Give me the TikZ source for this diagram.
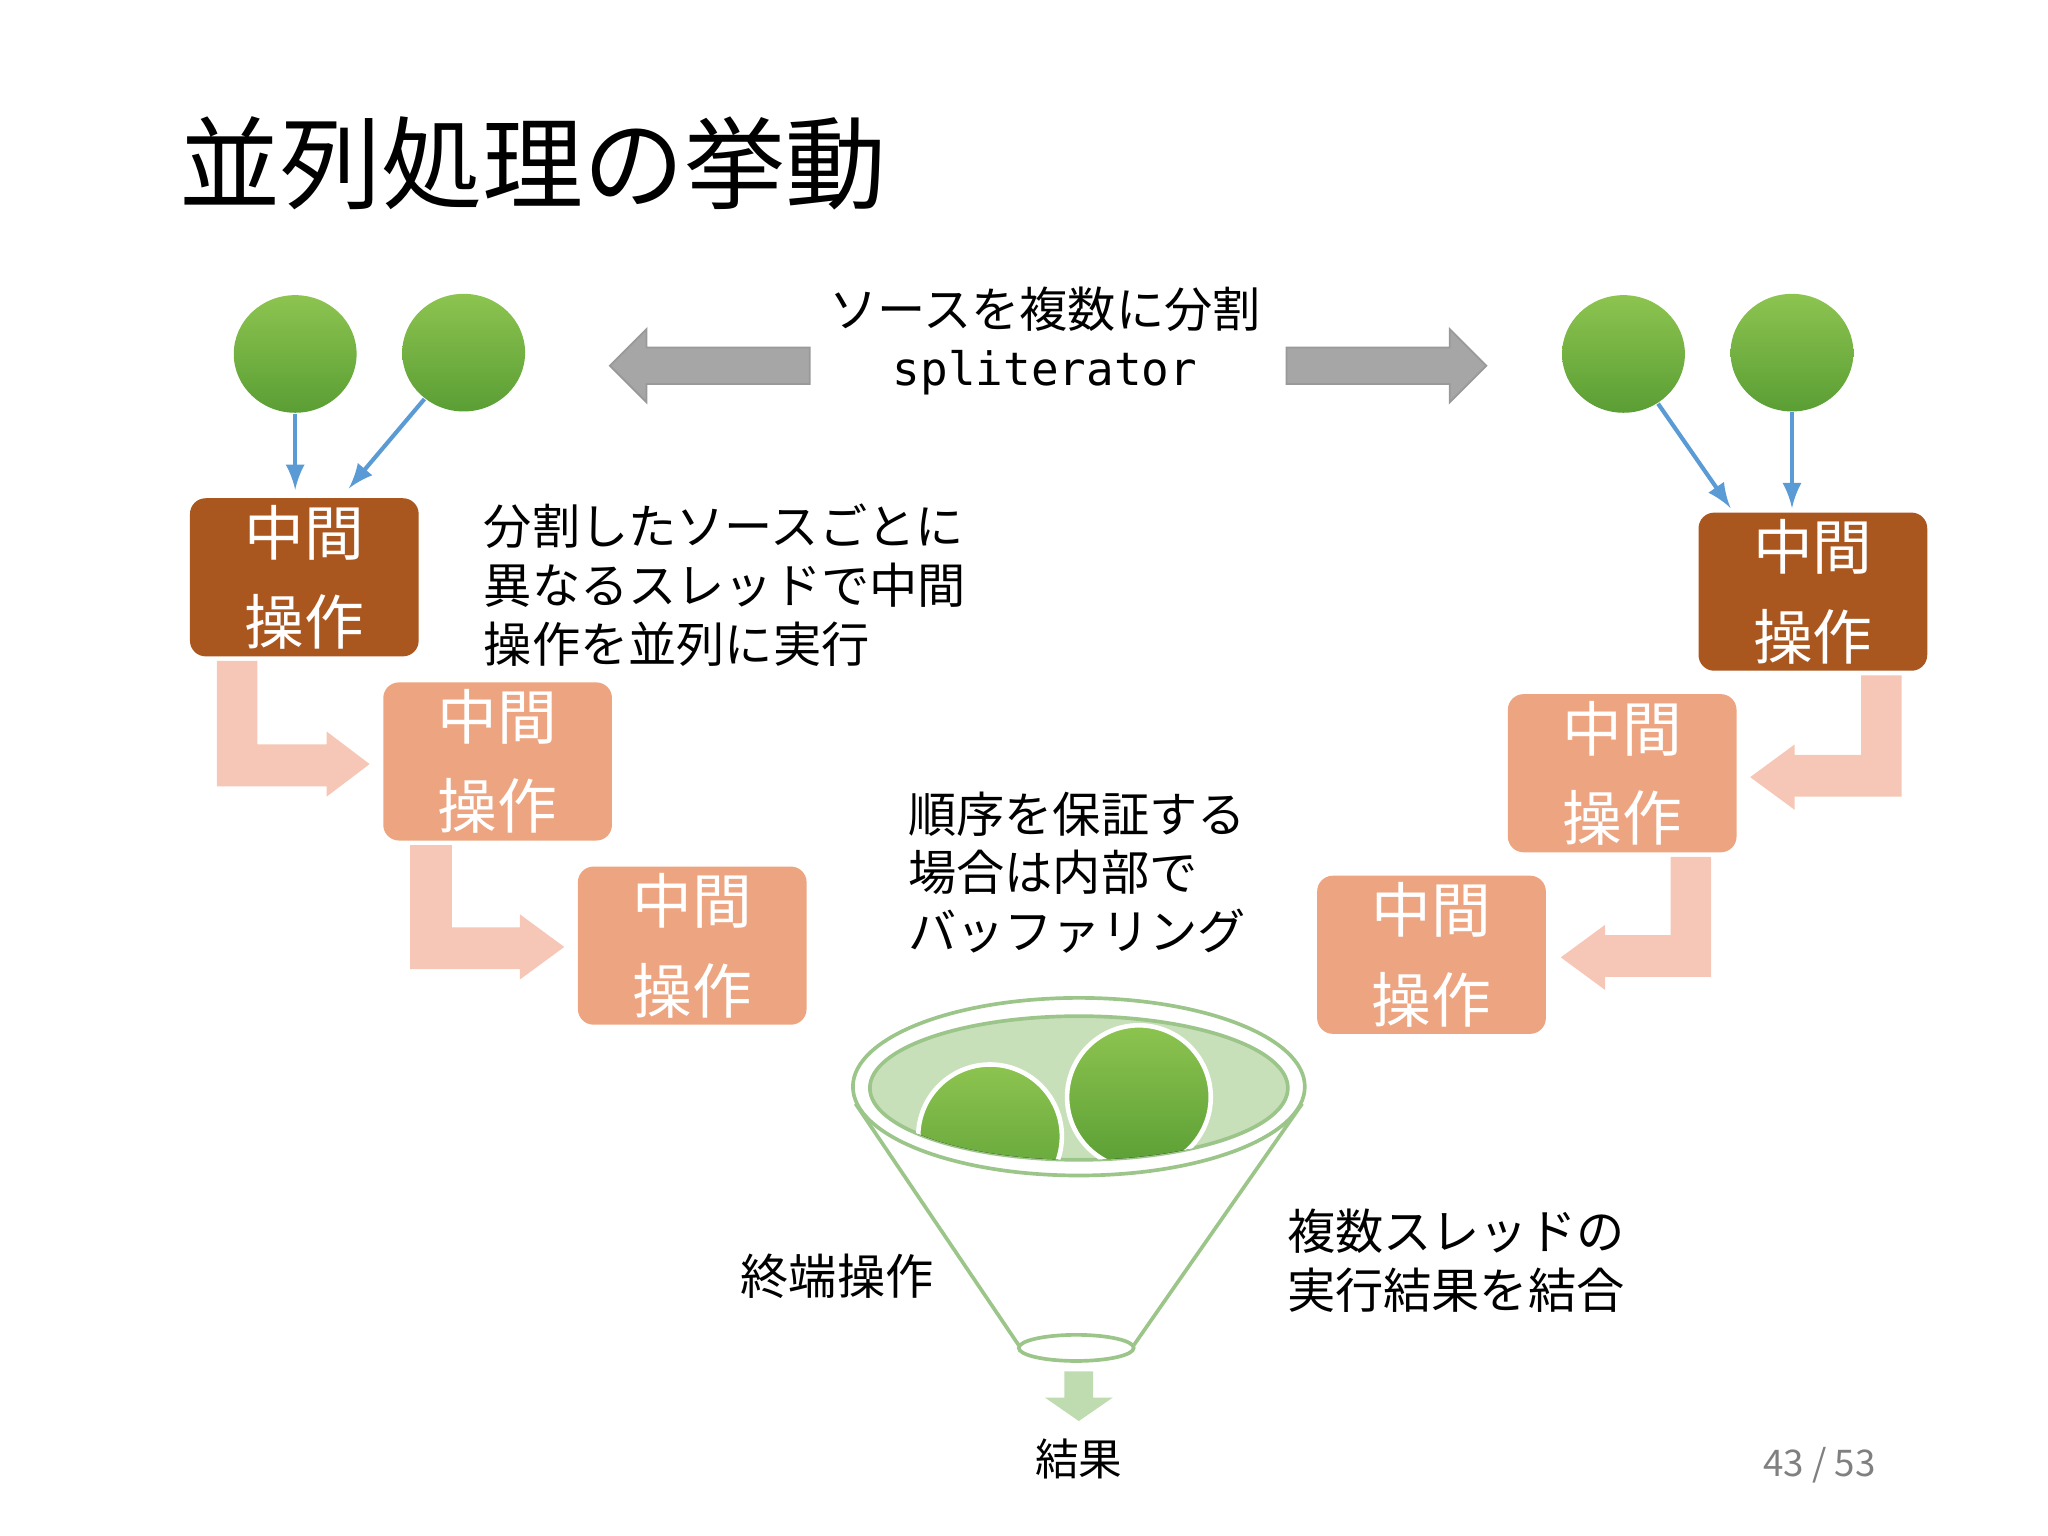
\documentclass[tikz,border=0pt]{standalone}
\usepackage{fontspec}
\setmainfont{Noto Sans CJK JP}
\newfontfamily\monof{DejaVu Sans Mono}
\usetikzlibrary{shapes.geometric}
\definecolor{dbrown}{HTML}{A9561F}
\definecolor{salmon}{HTML}{EDA480}
\definecolor{pinka}{HTML}{F6C6B6}
\definecolor{grayar}{HTML}{A6A6A6}
\definecolor{gtop}{HTML}{8DC450}
\definecolor{gbot}{HTML}{5A9E34}
\definecolor{bluea}{HTML}{5B9BD5}
\definecolor{funf}{HTML}{C8E0BA}
\definecolor{fune}{HTML}{9CC58A}
\definecolor{ball}{HTML}{6DAE45}
\begin{document}
\begin{tikzpicture}[x=0.01cm,y=-0.01cm,
 ball/.style={ellipse,minimum width=0.94cm,minimum height=0.9cm,top color=gtop,bottom color=gbot,draw=none},
 box/.style={rounded corners=0.12cm,minimum width=1.75cm,minimum height=1.21cm,inner sep=0pt,text=white,align=center,font=\fontsize{13}{19.5}\selectfont},
 dbox/.style={box,fill=dbrown},
 lbox/.style={box,fill=salmon},
 txt/.style={font=\fontsize{10.5}{12.8}\selectfont,align=left,anchor=west},
 blue/.style={draw=bluea,line width=0.9pt,-latex}]
\useasboundingbox (0,0) rectangle (1568,1176);
\node[anchor=west,font=\fontsize{22}{26}\selectfont] (title) at (125,125) {並列処理の挙動};
% balls
\node[ball] (b1) at (226,271) {}; \node[ball] (b2) at (355,270) {};
\node[ball] (b3) at (1243,271) {}; \node[ball] (b4) at (1372,270) {};
% gray arrows
\fill[grayar,draw=gray!80] (620,266)--(495,266)--(495,252)--(467,280)--(495,308)--(495,294)--(620,294)--cycle;
\fill[grayar,draw=gray!80] (985,266)--(1110,266)--(1110,252)--(1138,280)--(1110,308)--(1110,294)--(985,294)--cycle;
\node[font=\fontsize{10.5}{13}\selectfont] (t1) at (800,237) {ソースを複数に分割};
\node[font=\monof\fontsize{10}{13}\selectfont] (t2) at (800,285) {spliterator};
% boxes
\node[dbox] (L1) at (233,442) {中間\\操作};
\node[lbox] (L2) at (381,583) {中間\\操作};
\node[lbox] (L3) at (530,724) {中間\\操作};
\node[dbox] (R1) at (1388,453) {中間\\操作};
\node[lbox] (R2) at (1242,592) {中間\\操作};
\node[lbox] (R3) at (1096,731) {中間\\操作};
% blue arrows
\draw[blue] (b1) -- (226,375);
\draw[blue] (b2) -- (267,374);
\draw[blue] (b3) -- (1325,389);
\draw[blue] (b4) -- (1372,389);
% pink elbows
\fill[pinka] (166,506)--(197,506)--(197,570)--(250,570)--(250,560)--(283,585)--(250,610)--(250,602)--(166,602)--cycle;
\fill[pinka] (314,647)--(346,647)--(346,710)--(398,710)--(398,700)--(432,725)--(398,750)--(398,742)--(314,742)--cycle;
\fill[pinka] (1456,517)--(1425,517)--(1425,578)--(1374,578)--(1374,570)--(1340,595)--(1374,620)--(1374,610)--(1456,610)--cycle;
\fill[pinka] (1310,656)--(1279,656)--(1279,716)--(1229,716)--(1229,708)--(1195,733)--(1229,758)--(1229,748)--(1310,748)--cycle;
% texts
\node[txt] (tx1) at (358,448) {分割したソースごとに\\異なるスレッドで中間\\操作を並列に実行};
\node[txt] (tx2) at (683,668) {順序を保証する\\場合は内部で\\バッファリング};
\node[txt] (tx3) at (973,965) {複数スレッドの\\実行結果を結合};
\node[font=\fontsize{10.5}{13}\selectfont] (tx4) at (641,977) {終端操作};
% funnel
\draw[fune,line width=0.8pt,fill=white] (655,845)--(780,1030)--(868,1030)--(997,845);
\draw[fune,line width=0.8pt,fill=white] (826,832) ellipse (173 and 68);
\draw[fune,line width=0.8pt,fill=funf] (826,833) ellipse (160 and 55);
\begin{scope}
\clip (826,833) ellipse (160 and 55);
\fill[ball] (758,870) circle (55);
\fill[ball] (872,840) circle (55);
\draw[white,line width=1pt] (758,870) circle (55) (872,840) circle (55);
\end{scope}
\draw[fune,line width=0.8pt,fill=white] (824,1032) ellipse (44 and 10);
\fill[funf!80!fune] (815,1050)--(837,1050)--(837,1070)--(852,1070)--(826,1088)--(800,1070)--(815,1070)--cycle;
\node[font=\fontsize{9.5}{12}\selectfont] (res) at (826,1117) {結果};
\node[text=gray,font=\fontsize{8}{10}\selectfont] (pg) at (1393,1122) {43 / 53};
\end{tikzpicture}
\end{document}
